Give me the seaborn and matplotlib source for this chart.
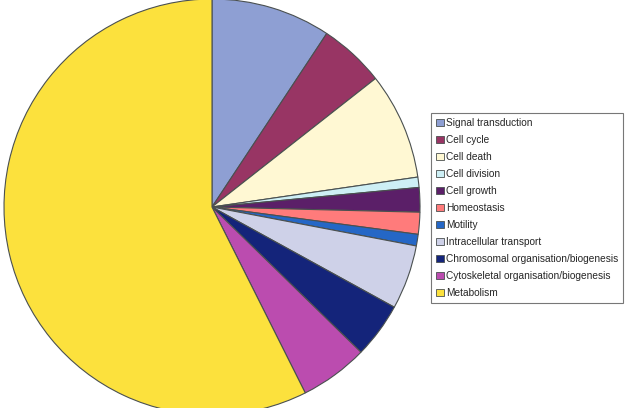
import matplotlib
matplotlib.use("Agg")
import matplotlib.pyplot as plt
import seaborn as sns

# categories and their share (%)
categories = ["Signal transduction", "Cell cycle", "Cell death", "Cell division",
              "Cell growth", "Homeostasis", "Motility", "Intracellular transport",
              "Chromosomal organisation/biogenesis",
              "Cytoskeletal organisation/biogenesis", "Metabolism"]
shares = [9.3, 5.1, 8.3, 0.8, 1.9, 1.7, 0.9, 5.0, 4.3, 5.3, 57.4]
colours = ["#8E9FD3", "#983564", "#FFF8D3", "#CDEFF5", "#5B1F68", "#FF7B7B",
           "#2567C6", "#CED1E8", "#14247A", "#BB4CAF", "#FCE13D"]

sns.set_theme(style="white")
plt.rcParams["font.family"] = ["Liberation Sans", "DejaVu Sans"]
palette = sns.color_palette(colours)

fig = plt.figure(figsize=(6.3, 4.08), dpi=100)
# pie centre ~ (212, 207) px, radius ~208 px
ax = fig.add_axes([4 / 630, (408 - 207 - 208) / 408, 416 / 630, 416 / 408])
wedges, _ = ax.pie(shares, colors=palette, startangle=90, counterclock=False,
                   wedgeprops=dict(edgecolor="#4a5050", linewidth=0.8))
ax.set_xlim(-1, 1)
ax.set_ylim(-1, 1)
ax.set_aspect("equal")
ax.axis("off")

leg = fig.legend(wedges, categories, loc="upper left",
                 bbox_to_anchor=(431 / 630, 1 - 113 / 408),
                 fontsize=7.3, frameon=True, fancybox=False,
                 handlelength=0.75, handleheight=0.75, handletextpad=0.2,
                 labelspacing=0.69, borderpad=0.5, borderaxespad=0)
leg.get_frame().set_edgecolor("#555555")
leg.get_frame().set_linewidth(0.8)
for h in leg.legend_handles:
    h.set_linewidth(0.6)

fig.savefig("out.png", dpi=100)
